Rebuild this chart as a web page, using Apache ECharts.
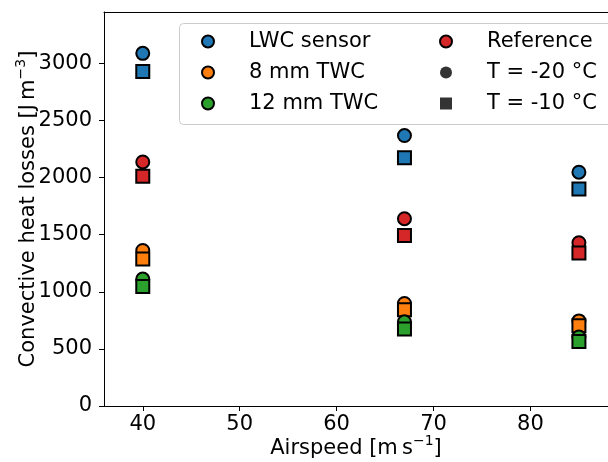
<!DOCTYPE html>
<html>
<head>
<meta charset="utf-8">
<script src="https://cdn.jsdelivr.net/npm/echarts@6/dist/echarts.min.js"></script>
<style>html,body{margin:0;padding:0;background:#fff}#c{width:608px;height:462px}</style>
</head>
<body>
<div id="c"></div>
<script>
const airspeed = [40, 67, 85];
const lwcM20 = [3088, 2368, 2047];
const lwcM10 = [2930, 2173, 1901];
const twc8M20 = [1362, 898, 745];
const twc8M10 = [1287, 842, 702];
const twc12M20 = [1111, 737, 605];
const twc12M10 = [1046, 675, 564];
const refM20 = [2137, 1640, 1430];
const refM10 = [2011, 1494, 1339];
const xTicks = [40, 50, 60, 70, 80];
const yTicks = [0, 500, 1000, 1500, 2000, 2500, 3000];

const FONT = 'DejaVu Sans';
const FS = 21;
const pts = (ys) => airspeed.map((x, i) => [x, ys[i]]);

function sc(name, color, symbol, ys) {
  return {
    type: 'scatter', name: name, symbol: symbol, symbolSize: 13,
    data: pts(ys),
    itemStyle: { color: color, borderColor: '#000', borderWidth: 2, opacity: 1 },
    emphasis: { disabled: true }
  };
}
const rich = {
  n: { fontSize: FS, fontFamily: FONT, color: '#000', lineHeight: 25, verticalAlign: 'bottom' },
  s: { fontSize: 14, fontFamily: FONT, color: '#000', lineHeight: 25, verticalAlign: 'top', padding: [0, 0, 8, 0] }
};

const chart = echarts.init(document.getElementById('c'), null, { renderer: 'canvas' });
const axisLineStyle = { color: '#000', width: 1 };
chart.setOption({
  animation: false,
  textStyle: { fontFamily: FONT },
  grid: { left: 104, top: 12, right: 0, bottom: 56, containLabel: false, outerBoundsMode: 'none' },
  xAxis: [{
    type: 'value', min: 36, max: 88,
    axisLine: { show: true, lineStyle: axisLineStyle },
    axisTick: { show: true, length: 5, inside: false, lineStyle: axisLineStyle, customValues: xTicks },
    axisLabel: { fontSize: FS, color: '#000', margin: 8, fontFamily: FONT, customValues: xTicks, formatter: v => String(v) },
    splitLine: { show: false },
    name: '{n|Airspeed [m\u2009s}{s|\u22121}{n|]}',
    nameLocation: 'middle', nameGap: 28, nameMoveOverlap: false,
    nameTextStyle: { fontFamily: FONT, color: '#000', rich: rich }
  }, {
    type: 'value', position: 'top', min: 36, max: 88,
    axisLine: { show: true, lineStyle: axisLineStyle },
    axisTick: { show: false }, axisLabel: { show: false }, splitLine: { show: false }
  }],
  yAxis: {
    type: 'value', min: 0, max: 3450,
    axisLine: { show: true, lineStyle: axisLineStyle },
    axisTick: { show: true, length: 5, lineStyle: axisLineStyle, customValues: yTicks },
    axisLabel: { fontSize: FS, color: '#000', margin: 12, fontFamily: FONT, customValues: yTicks, formatter: v => String(v) },
    splitLine: { show: false },
    name: '{n|Convective heat losses [J\u2009m}{s|\u22123}{n|]}',
    nameLocation: 'middle', nameGap: 65, nameRotate: 90, nameMoveOverlap: false,
    nameTextStyle: { fontFamily: FONT, color: '#000', rich: rich }
  },
  graphic: [{
    type: 'rect', z: 3,
    shape: { x: 179.5, y: 23.5, width: 450, height: 101, r: 4 },
    style: { fill: 'rgba(255,255,255,0.8)', stroke: '#cccccc', lineWidth: 1 }
  }],
  legend: [{
    left: 201, top: 31, orient: 'vertical', itemGap: 10,
    itemWidth: 12, itemHeight: 12, padding: 0,
    selectedMode: false,
    textStyle: { fontSize: FS, color: '#000', fontFamily: FONT, padding: [0, 0, 0, 30] },
    data: ['LWC sensor', '8 mm TWC', '12 mm TWC']
  }, {
    left: 439, top: 31, orient: 'vertical', itemGap: 10,
    itemWidth: 12, itemHeight: 12, padding: 0,
    selectedMode: false,
    textStyle: { fontSize: FS, color: '#000', fontFamily: FONT, padding: [0, 0, 0, 30] },
    data: ['Reference', 'T = -20 °C', 'T = -10 °C']
  }],
  series: [
    sc('LWC sensor', '#1f77b4', 'circle', lwcM20),
    sc('LWC sensor T = -10 °C', '#1f77b4', 'rect', lwcM10),
    sc('8 mm TWC', '#ff7f0e', 'circle', twc8M20),
    sc('8 mm TWC T = -10 °C', '#ff7f0e', 'rect', twc8M10),
    sc('12 mm TWC', '#2ca02c', 'circle', twc12M20),
    sc('12 mm TWC T = -10 °C', '#2ca02c', 'rect', twc12M10),
    sc('Reference', '#d62728', 'circle', refM20),
    sc('Reference T = -10 °C', '#d62728', 'rect', refM10),
    { type: 'scatter', name: 'T = -20 °C', symbol: 'circle', symbolSize: 11, data: [], itemStyle: { color: '#000' } },
    { type: 'scatter', name: 'T = -10 °C', symbol: 'rect', symbolSize: 10, data: [], itemStyle: { color: '#000' } }
  ]
});
</script>
</body>
</html>
